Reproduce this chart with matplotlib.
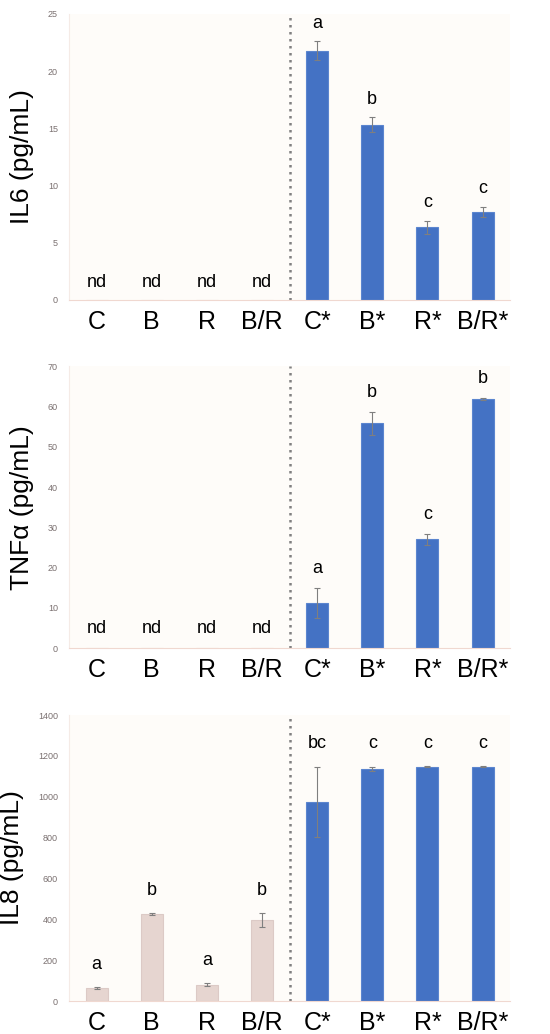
import matplotlib.pyplot as plt
import numpy as np

plt.rcParams['font.family'] = ['Liberation Sans', 'DejaVu Sans']

groups = ['C', 'B', 'R', 'B/R', 'C*', 'B*', 'R*', 'B/R*']

# IL6
il6 = [0, 0, 0, 0, 21.8, 15.3, 6.35, 7.7]
il6_err = [0, 0, 0, 0, 0.8, 0.65, 0.55, 0.45]
il6_lab = ['nd', 'nd', 'nd', 'nd', 'a', 'b', 'c', 'c']

# TNFa
tnf = [0, 0, 0, 0, 11.2, 55.8, 27.0, 61.8]
tnf_err = [0, 0, 0, 0, 3.7, 2.8, 1.3, 0.2]
tnf_lab = ['nd', 'nd', 'nd', 'nd', 'a', 'b', 'c', 'b']

# IL8
il8 = [62, 426, 80, 396, 976, 1137, 1147, 1147]
il8_err = [5, 5, 6, 33, 171, 10, 3, 3]
il8_lab = ['a', 'b', 'a', 'b', 'bc', 'c', 'c', 'c']

blue = '#4472c4'
pink = '#e6d5d0'

panels = [
    (il6, il6_err, il6_lab, 'IL6 (pg/mL)', 25, 5, 1.6, 1.5, [0.1255, 0.7099, 0.802, 0.2766]),
    (tnf, tnf_err, tnf_lab, 'TNFα (pg/mL)', 70, 10, 4.9, 5.0, [0.1255, 0.373, 0.802, 0.273]),
    (il8, il8_err, il8_lab, 'IL8 (pg/mL)', 1400, 200, 112, None, [0.1255, 0.0319, 0.802, 0.2766]),
]

fig = plt.figure(figsize=(5.5, 10.34), dpi=100)
fig.patch.set_facecolor('white')

x = np.arange(len(groups))
for vals, errs, labs, ylab, ymax, step, off, ndy, pos in panels:
    ax = fig.add_axes(pos)
    ax.set_facecolor('#fefcf9')
    cols = [blue if g.endswith('*') else pink for g in groups]
    edges = ['#5b85cf' if g.endswith('*') else '#dccac6' for g in groups]
    ax.bar(x, vals, width=0.4, color=cols, edgecolor=edges, linewidth=0.8, zorder=2)
    for i in range(len(groups)):
        if vals[i] > 0:
            ax.errorbar(x[i], vals[i], yerr=errs[i], fmt='none', ecolor='#7f7f7f',
                        elinewidth=0.8, capsize=2.5, capthick=0.8, zorder=3)
        if labs[i] == 'nd':
            ax.text(x[i], ndy, labs[i], ha='center', va='center', fontsize=13)
        else:
            ax.text(x[i], vals[i] + errs[i] + off, labs[i], ha='center', va='center', fontsize=13)
    ax.axvline(3.5, color='#808080', linestyle=(0, (1, 1.8)), linewidth=1.8, zorder=1)
    ax.set_xlim(-0.5, 7.5)
    ax.set_ylim(0, ymax)
    ax.set_yticks(np.arange(0, ymax + step, step))
    ax.tick_params(axis='y', length=0, labelsize=6.5, labelcolor='#7a7070', pad=8)
    ax.set_xticks(x)
    ax.set_xticklabels(groups, fontsize=18)
    ax.tick_params(axis='x', length=0, pad=7)
    ax.set_ylabel(ylab, fontsize=19, labelpad=10)
    for s in ['top', 'right']:
        ax.spines[s].set_visible(False)
    ax.spines['left'].set_color('#f5ebe6')
    ax.spines['bottom'].set_color('#f0d8d0')
    ax.spines['left'].set_linewidth(0.8)
    ax.spines['bottom'].set_linewidth(0.8)

fig.savefig('out.png', dpi=100)
